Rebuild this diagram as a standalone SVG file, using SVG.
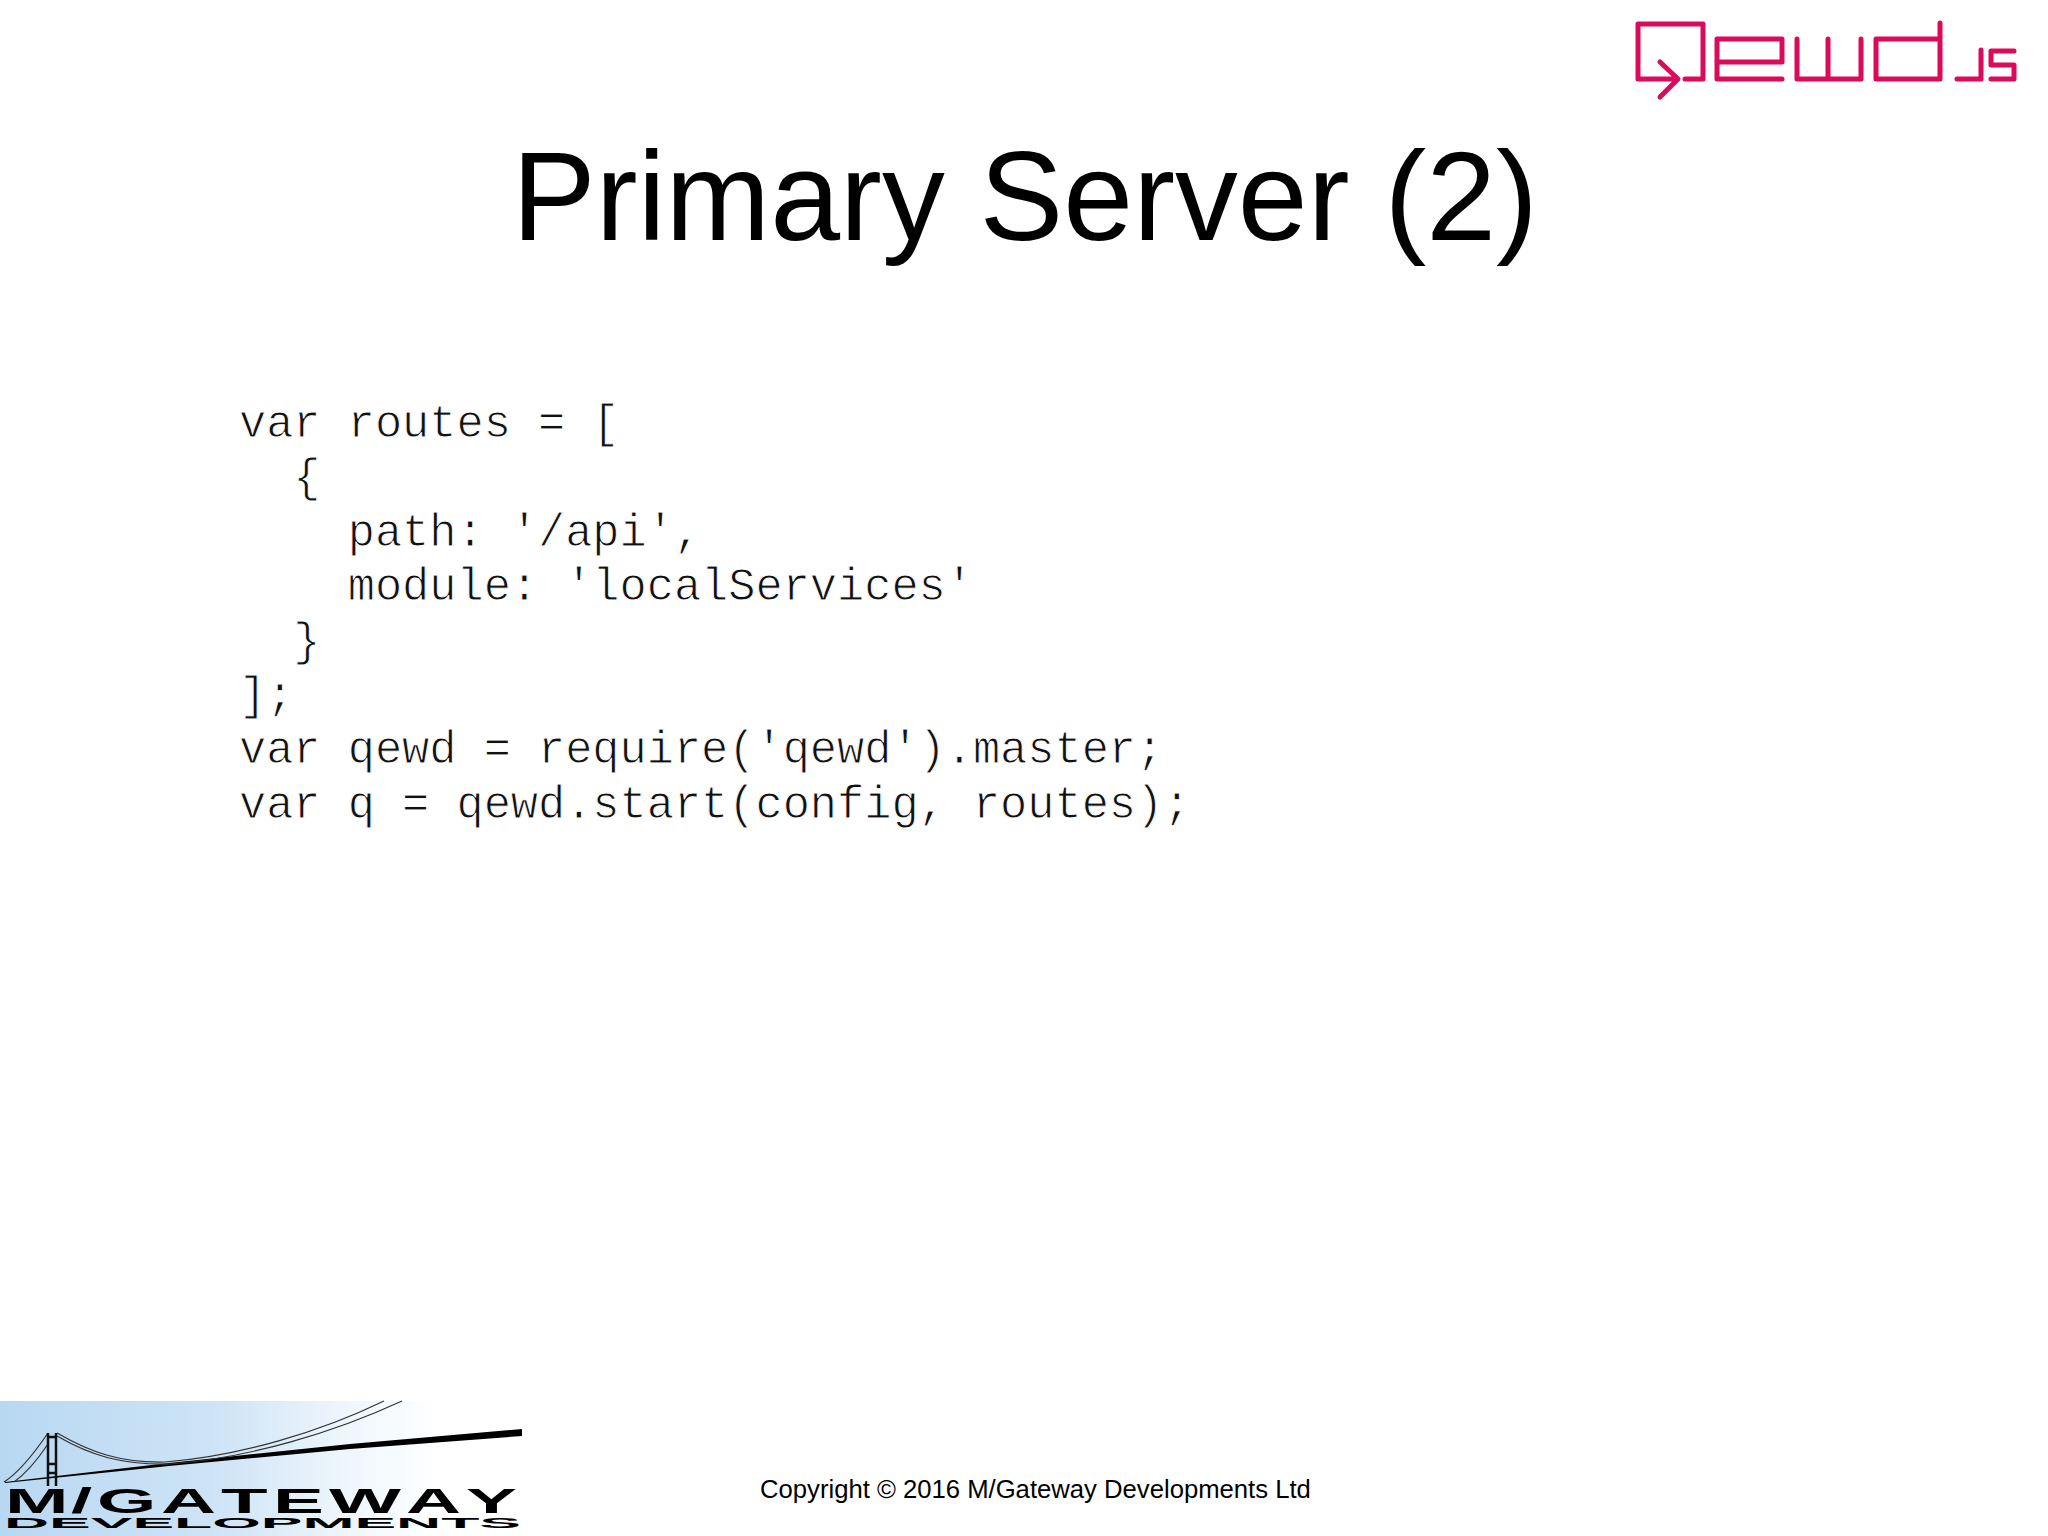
<svg xmlns="http://www.w3.org/2000/svg" width="2048" height="1536" viewBox="0 0 2048 1536">
<style>
.code{font-family:"Liberation Mono",monospace;font-size:45.3px;fill:#111;stroke:#fff;stroke-width:.9px;white-space:pre}
.sans{font-family:"Liberation Sans",Arial,sans-serif;fill:#000}
.q{fill:none;stroke:#dc0a5a;stroke-width:5;stroke-linecap:round;stroke-linejoin:round}
.cable{fill:none;stroke:#333;stroke-width:1.2}
</style>
<defs>
<linearGradient id="sky" x1="0" y1="0" x2="1" y2="0"><stop offset="0" stop-color="#b8d8f2"/><stop offset="0.5" stop-color="#cfe4f6"/><stop offset="0.78" stop-color="#eef6fc"/><stop offset="1" stop-color="#fff"/></linearGradient>
</defs>
<rect width="2048" height="1536" fill="#fff"/>
<g id="qewd-logo" class="q">
<path d="M1685 79H1703V24H1638V79H1677M1660 62L1678 79L1660 97"/>
<path d="M1782 79H1717V39H1782V62H1717"/>
<path d="M1797 39V79H1861V39M1828 39V79"/>
<path d="M1940 23V79H1876V39H1940"/>
<path d="M1957 79H1981V50"/>
<path d="M2014 51H1991V65H2014V79H1991"/>
</g>
<text class="sans" x="1025" y="240" font-size="125.6" text-anchor="middle">Primary Server (2)</text>
<g id="code">
<text class="code" x="239" y="437">var routes = [</text>
<text class="code" x="239" y="491.4">  {</text>
<text class="code" x="239" y="545.8">    path: '/api',</text>
<text class="code" x="239" y="600.2">    module: 'localServices'</text>
<text class="code" x="239" y="654.6">  }</text>
<text class="code" x="239" y="709">];</text>
<text class="code" x="239" y="763.4">var qewd = require('qewd').master;</text>
<text class="code" x="239" y="817.8">var q = qewd.start(config, routes);</text>
</g>
<text class="sans" x="760" y="1498" font-size="25.66">Copyright © 2016 M/Gateway Developments Ltd</text>
<g id="gateway-logo">
<rect x="0" y="1401" width="440" height="135" fill="url(#sky)"/>
<polygon points="5,1482 169,1463 350,1444 522,1429 522,1436 350,1449 169,1466 5,1483" fill="#000"/>
<path class="cable" d="M4 1482C20 1472 35 1452 48 1433M14 1482C28 1472 40 1456 48 1444M57 1433C90 1452 120 1463 165 1462C240 1456 320 1432 384 1401M57 1436C90 1455 120 1465 170 1464C250 1458 335 1432 402 1401"/>
<path d="M48 1433V1486M56 1433V1486M47 1437H57M47 1464H57M47 1473H57" fill="none" stroke="#111" stroke-width="2.5"/>
<text class="sans" transform="scale(2.18 1)" y="1513" font-size="35" font-weight="bold" x="2.3 32.6 44.5 73.9 101.4 125.2 150.9 186.2 213.8">M/GATEWAY</text>
<text class="sans" x="4" y="1528" font-size="14" font-weight="bold" textLength="517" lengthAdjust="spacingAndGlyphs">DEVELOPMENTS</text>
</g>
</svg>
